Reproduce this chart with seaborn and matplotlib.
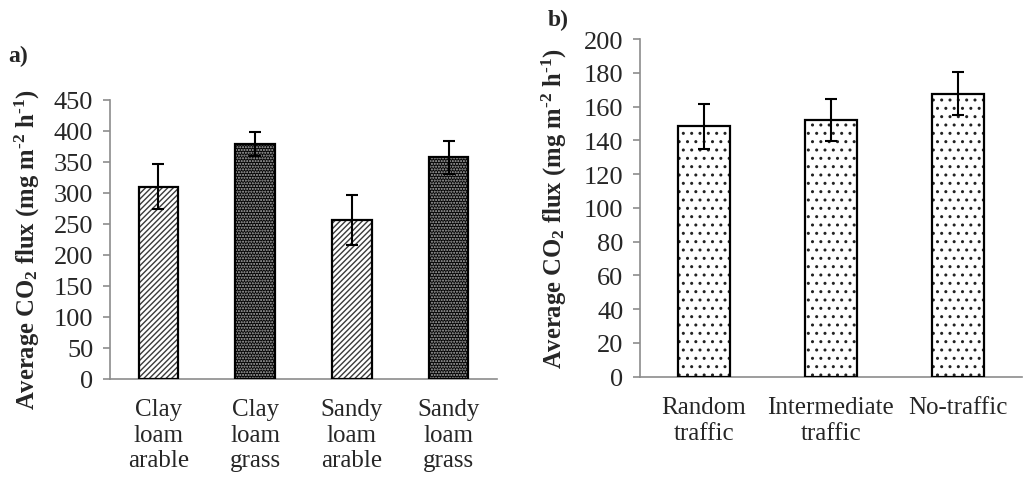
import matplotlib
matplotlib.use('Agg')
import matplotlib.pyplot as plt
from matplotlib.patches import Rectangle
import seaborn as sns
import pandas as pd

# panel a) soil / land use
soil_labels = ['Clay\nloam\narable', 'Clay\nloam\ngrass', 'Sandy\nloam\narable', 'Sandy\nloam\ngrass']
soil_flux = [310, 379, 256, 357]
soil_err = [36, 19, 40, 27]
soil_ticks = [0, 50, 100, 150, 200, 250, 300, 350, 400, 450]

# panel b) traffic treatment
traffic_labels = ['Random\ntraffic', 'Intermediate\ntraffic', 'No-traffic']
traffic_flux = [148.3, 151.9, 167.5]
traffic_err = [13.5, 12.5, 12.7]
traffic_ticks = [0, 20, 40, 60, 80, 100, 120, 140, 160, 180, 200]

sns.set_style('white')
plt.rcParams['font.family'] = ['Liberation Serif', 'DejaVu Serif']
plt.rcParams['mathtext.fontset'] = 'custom'
plt.rcParams['mathtext.rm'] = 'Liberation Serif:bold'
plt.rcParams['mathtext.bf'] = 'Liberation Serif:bold'
plt.rcParams['mathtext.it'] = 'Liberation Serif:bold'
plt.rcParams['hatch.linewidth'] = 1.0

AX_GREY = '#8c8c8c'
FS_X = 18
FS_Y = 19
HY = '\u2010'  # real hyphen so mathtext does not turn it into a spaced minus
YLABEL = 'Average CO$_{2}$ flux (mg m$^{' + HY + '2}$ h$^{' + HY + '1}$)'


def draw_panel(ax, labels, flux, err, ticks, styles):
    df = pd.DataFrame({'cat': labels, 'flux': flux})
    sns.barplot(data=df, x='cat', y='flux', ax=ax, width=0.41,
                color='white', linewidth=0, errorbar=None)
    for p, (face, hatch, hcol) in zip(ax.patches, styles):
        p.set_facecolor(face)
        p.set_edgecolor(hcol)
        p.set_hatch(hatch)
        p.set_linewidth(0)
    # black outlines on top of the hatched bars
    for p in list(ax.patches):
        ax.add_patch(Rectangle(p.get_xy(), p.get_width(), p.get_height(),
                               fill=False, edgecolor='black', lw=1.6, zorder=3))
    ax.errorbar(range(len(labels)), flux, yerr=err, fmt='none', ecolor='black',
                elinewidth=1.5, capsize=4, capthick=1.5, zorder=4)

    ax.set_xlim(-0.5, len(labels) - 0.5)
    ax.set_ylim(ticks[0], ticks[-1])
    ax.set_yticks(ticks)
    ax.set_xlabel('')
    ax.set_ylabel(YLABEL, fontsize=17.7, fontweight='bold')
    sns.despine(ax=ax)
    for sp in ['left', 'bottom']:
        ax.spines[sp].set_color(AX_GREY)
        ax.spines[sp].set_linewidth(1.2)
    # excel-style: ticks between categories
    ax.set_xticks([i - 0.5 for i in range(len(labels) + 1)], minor=True)
    ax.tick_params(axis='x', which='major', length=0, pad=14, labelsize=FS_X)
    ax.tick_params(axis='x', which='minor', length=6, width=1.2, color=AX_GREY, direction='out')
    ax.tick_params(axis='y', length=5, width=1.2, color=AX_GREY, direction='out',
                   labelsize=FS_Y, left=True, pad=7)


fig = plt.figure(figsize=(10.36, 4.81), dpi=100)
ax_a = fig.add_axes([0.1062, 0.21, 0.3735, 0.5806])
ax_b = fig.add_axes([0.6178, 0.2148, 0.3684, 0.702])

diag = ('white', '//////', '#3a3a3a')
dense = ('#050505', '......', '#b0b0b0')
draw_panel(ax_a, soil_labels, soil_flux, soil_err, soil_ticks, [diag, dense, diag, dense])

dots = ('white', '..', '#222222')
draw_panel(ax_b, traffic_labels, traffic_flux, traffic_err, traffic_ticks, [dots] * 3)

ax_a.yaxis.set_label_coords(-0.175, 0.465)
ax_b.yaxis.set_label_coords(-0.185, 0.5)

fig.text(0.008, 0.872, 'a)', fontsize=17, fontweight='bold')
fig.text(0.529, 0.945, 'b)', fontsize=17, fontweight='bold')

plt.savefig('out.png', dpi=100, facecolor='white')
plt.close()
